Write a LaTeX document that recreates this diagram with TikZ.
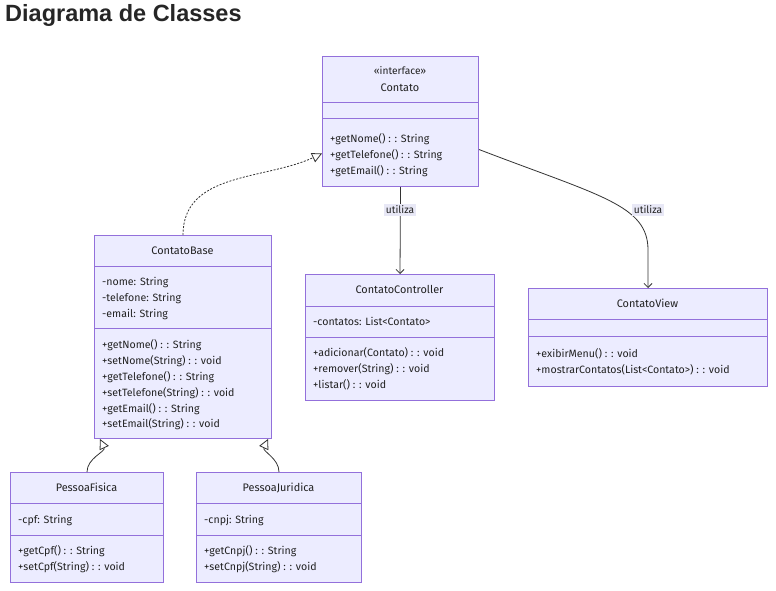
\documentclass[tikz,border=0pt]{standalone}
\usepackage{fontspec}
\setmainfont{Fira Sans}
\newfontfamily\headfont{Liberation Sans}
\usepackage{tikz}
\usetikzlibrary{arrows.meta,%
                shapes,positioning}
\definecolor{umlfill}{HTML}{ECECFF}
\definecolor{umlborder}{HTML}{9370DB}
\definecolor{umltext}{HTML}{222222}
\definecolor{edgecol}{HTML}{333333}
\definecolor{labelfill}{HTML}{E8E8F6}

\tikzset{
  classbox/.style={draw=umlborder, fill=umlfill, line width=1pt, inner sep=0pt, anchor=north west},
  divider/.style={draw=umlborder, line width=1pt},
  member/.style={anchor=mid west, yshift=-1.5pt, inner sep=0pt, text=umltext, font=\fontsize{10.6}{12}\selectfont},
  classname/.style={anchor=mid, yshift=-1.5pt, inner sep=0pt, text=umltext, font=\fontsize{10.9}{13}\selectfont},
  stereo/.style={anchor=mid, yshift=-1pt, inner sep=0pt, text=umltext, font=\fontsize{10.2}{11}\selectfont},
  edgelabel/.style={fill=labelfill, inner sep=2pt, text=umltext, font=\fontsize{10.2}{12}\selectfont},
  uses/.style={draw=edgecol, line width=0.8pt, -{Straight Barb[length=4pt,width=8pt]}},
  realizes/.style={draw=edgecol, line width=0.8pt, dash pattern=on 2pt off 1.5pt, -{Triangle[open,length=10pt,width=10pt]}},
  extends/.style={draw=edgecol, line width=0.8pt, -{Triangle[open,length=10pt,width=10pt]}}
}

\begin{document}
\begin{tikzpicture}[x=1pt,y=-1pt]
\fill[white] (0,0) rectangle (776,591);
\useasboundingbox (0,0) rectangle (776,591);
\node[anchor=west, inner sep=0pt, text=black!85, font=\headfont\bfseries\fontsize{23.5}{26}\selectfont] (titulo) at (5,15) {Diagrama de Classes};
% boxes
\node[classbox, minimum width=156pt, minimum height=130pt] (contato) at (322,56) {};
\node[classbox, minimum width=177pt, minimum height=203pt] (cbase) at (94,235) {};
\node[classbox, minimum width=189pt, minimum height=126pt] (ctrl) at (305,274) {};
\node[classbox, minimum width=239pt, minimum height=98pt] (view) at (528,288) {};
\node[classbox, minimum width=153pt, minimum height=110pt] (pfis) at (10,472) {};
\node[classbox, minimum width=165pt, minimum height=110pt] (pjur) at (196,472) {};
\draw[divider] ([yshift=-47pt]contato.north west) -- ([yshift=-47pt]contato.north east);
\draw[divider] ([yshift=-63pt]contato.north west) -- ([yshift=-63pt]contato.north east);
\draw[divider] ([yshift=-31pt]cbase.north west) -- ([yshift=-31pt]cbase.north east);
\draw[divider] ([yshift=-93pt]cbase.north west) -- ([yshift=-93pt]cbase.north east);
\draw[divider] ([yshift=-32pt]ctrl.north west) -- ([yshift=-32pt]ctrl.north east);
\draw[divider] ([yshift=-63pt]ctrl.north west) -- ([yshift=-63pt]ctrl.north east);
\draw[divider] ([yshift=-31pt]view.north west) -- ([yshift=-31pt]view.north east);
\draw[divider] ([yshift=-48pt]view.north west) -- ([yshift=-48pt]view.north east);
\draw[divider] ([yshift=-31pt]pfis.north west) -- ([yshift=-31pt]pfis.north east);
\draw[divider] ([yshift=-63pt]pfis.north west) -- ([yshift=-63pt]pfis.north east);
\draw[divider] ([yshift=-31pt]pjur.north west) -- ([yshift=-31pt]pjur.north east);
\draw[divider] ([yshift=-63pt]pjur.north west) -- ([yshift=-63pt]pjur.north east);
% Contato
\node[stereo] (cst) at (400,71) {«interface»};
\node[classname] (cnm) at (400,87) {Contato};
\node[member] (cm1) at (330,138) {+getNome() : : String};
\node[member] (cm2) at (330,154) {+getTelefone() : : String};
\node[member] (cm3) at (330,170) {+getEmail() : : String};
% ContatoBase
\node[classname] (bnm) at (182.5,250) {ContatoBase};
\node[member] (ba1) at (102,281) {-nome: String};
\node[member] (ba2) at (102,297) {-telefone: String};
\node[member] (ba3) at (102,313) {-email: String};
\node[member] (bm1) at (102,344) {+getNome() : : String};
\node[member] (bm2) at (102,360) {+setNome(String) : : void};
\node[member] (bm3) at (102,376) {+getTelefone() : : String};
\node[member] (bm4) at (102,392) {+setTelefone(String) : : void};
\node[member] (bm5) at (102,408) {+getEmail() : : String};
\node[member] (bm6) at (102,423) {+setEmail(String) : : void};
% ContatoController
\node[classname] (knm) at (399.5,289) {ContatoController};
\node[member] (ka1) at (313,321) {-contatos: List<Contato>};
\node[member] (km1) at (313,352) {+adicionar(Contato) : : void};
\node[member] (km2) at (313,368) {+remover(String) : : void};
\node[member] (km3) at (313,384) {+listar() : : void};
% ContatoView
\node[classname] (vnm) at (647.5,303) {ContatoView};
\node[member] (vm1) at (536,353) {+exibirMenu() : : void};
\node[member] (vm2) at (536,369) {+mostrarContatos(List<Contato>) : : void};
% PessoaFisica
\node[classname] (fnm) at (86.5,487) {PessoaFisica};
\node[member] (fa1) at (18,519) {-cpf: String};
\node[member] (fm1) at (18,550) {+getCpf() : : String};
\node[member] (fm2) at (18,566) {+setCpf(String) : : void};
% PessoaJuridica
\node[classname] (jnm) at (278.5,487) {PessoaJuridica};
\node[member] (ja1) at (204,519) {-cnpj: String};
\node[member] (jm1) at (204,550) {+getCnpj() : : String};
\node[member] (jm2) at (204,566) {+setCnpj(String) : : void};
% relations
\draw[realizes] (cbase.north) to[out=90,in=205] ([yshift=-32pt]contato.west);
\draw[uses] (contato.south) -- (ctrl.north);
\draw[uses] ([yshift=-28pt]contato.east) .. controls (600,196) and (648,205) .. (648,250) -- (view.north);
\draw[extends] (pfis.north) to[out=90,in=-65] ([xshift=6pt]cbase.south west);
\draw[extends] (pjur.north) to[out=90,in=-115] ([xshift=-4pt]cbase.south east);
\node[edgelabel] (lctrl) at (400,210) {utiliza};
\node[edgelabel] (lview) at (648,210) {utiliza};
\end{tikzpicture}
\end{document}
